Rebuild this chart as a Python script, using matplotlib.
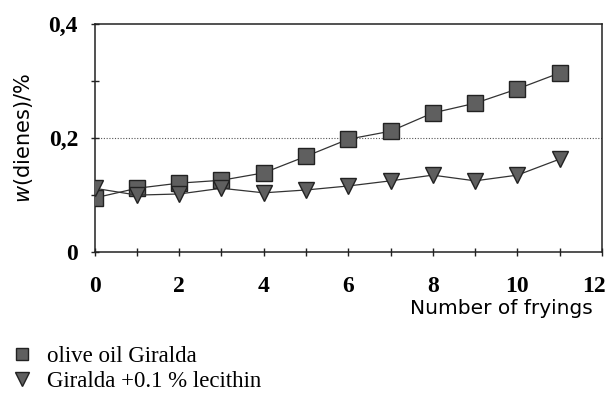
import numpy as np
import matplotlib.pyplot as plt
import matplotlib.transforms as mtransforms
from matplotlib.lines import Line2D
from matplotlib.ticker import MultipleLocator

# number of fryings
fryings = np.arange(0, 12)
# w(dienes) in %
olive_oil = [0.095, 0.112, 0.121, 0.126, 0.139, 0.168, 0.198, 0.212, 0.244, 0.261, 0.286, 0.314]
lecithin = [0.112, 0.100, 0.102, 0.112, 0.104, 0.109, 0.116, 0.125, 0.135, 0.125, 0.135, 0.163]
labels = ['olive oil Giralda', 'Giralda +0.1 % lecithin']

fig = plt.figure(figsize=(6.11, 3.99), dpi=100)
ax = fig.add_axes([0.155, 0.368, 0.83, 0.572])

mstyle = dict(mfc='#5f5f5f', mec='#222222', mew=1.0)
ax.plot(fryings, olive_oil, color='#333333', lw=0.9, marker='s', ms=11, zorder=3, **mstyle)
ax.plot(fryings, lecithin, color='#333333', lw=0.9, marker='v', ms=12, zorder=3, **mstyle)

ax.axhline(0.2, color='#555555', lw=0.8, ls=(0, (1, 1.5)), zorder=1)

ax.set_xlim(0, 12)
ax.set_ylim(0, 0.4)
ax.set_xticks([0, 2, 4, 6, 8, 10, 12])
ax.xaxis.set_minor_locator(MultipleLocator(1))
ax.set_yticks([0, 0.2, 0.4])
ax.set_yticklabels(['0', '0,2', '0,4'])
ax.yaxis.set_minor_locator(MultipleLocator(0.1))
ax.tick_params(which='both', direction='inout', length=6, width=1.0, color='#222222')
ax.tick_params(axis='x', pad=14)
ax.tick_params(axis='y', pad=9)
for lab in ax.get_xticklabels() + ax.get_yticklabels():
    lab.set_fontfamily('Liberation Serif')
    lab.set_fontweight('bold')
    lab.set_fontsize(17)
# last x label sits a bit left so it stays inside the figure
last = ax.get_xticklabels()[-1]
last.set_transform(last.get_transform() +
                   mtransforms.ScaledTranslation(-6 / 72, 0, fig.dpi_scale_trans))
for s in ax.spines.values():
    s.set_linewidth(1.1)
    s.set_color('#222222')

ax.set_ylabel(r'$\it{w}$(dienes)/%', fontsize=15, family='DejaVu Sans', labelpad=10)
fig.text(0.9705, 0.212, 'Number of fryings', ha='right', va='baseline',
         fontsize=14.5, family='DejaVu Sans')

# legend shows markers only
handles = [Line2D([], [], ls='none', marker='s', ms=9, **mstyle),
           Line2D([], [], ls='none', marker='v', ms=10, **mstyle)]
fig.legend(handles, labels, loc='lower left', bbox_to_anchor=(-0.02, -0.035), frameon=False,
           prop={'family': 'Liberation Serif', 'size': 16.5},
           handlelength=1.2, handletextpad=0.5, labelspacing=0.2)

fig.savefig('out.png', dpi=100)
